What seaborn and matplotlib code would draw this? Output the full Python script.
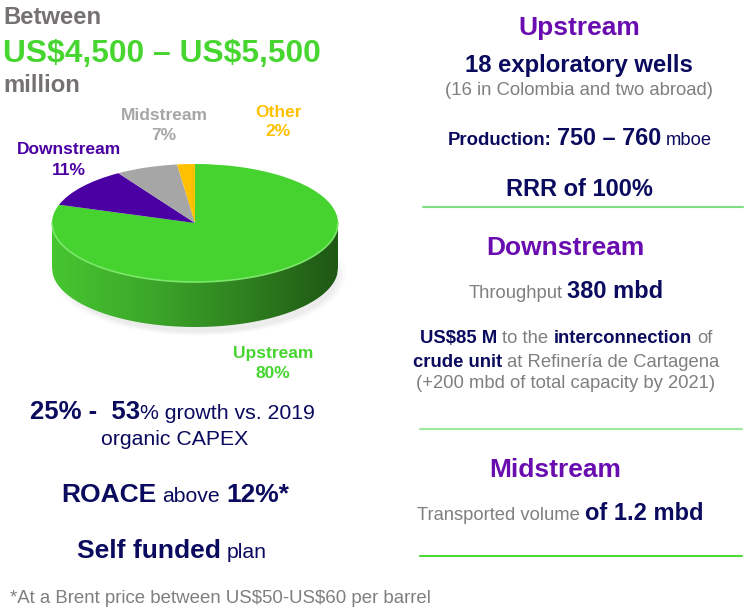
import numpy as np
import matplotlib
matplotlib.use("Agg")
import matplotlib.pyplot as plt
import seaborn as sns
from matplotlib.patches import Polygon, Ellipse

# capex split 2020
segments = ["Upstream", "Downstream", "Midstream", "Other"]
shares = [80, 11, 7, 2]
seg_colors = ["#46D330", "#4B00A3", "#A6A6A6", "#FFC000"]

NAVY = "#0A0A5E"
GRAY = "#7F7F7F"
PURPLE = "#6A0DB0"
TITLE_GRAY = "#757171"
GREEN = "#47D630"

sns.set_theme(style="white")
plt.rcParams['font.family'] = ['Liberation Sans', 'DejaVu Sans']

fig = plt.figure(figsize=(7.46, 6.14), dpi=100)
ax = fig.add_axes([0, 0, 1, 1])
ax.set_xlim(0, 746)
ax.set_ylim(614, 0)
ax.axis('off')
ax.patch.set_alpha(0)

# --- pie (flattened, with a side) ---
cx, cy, rx, ry, depth = 195, 223, 143, 59, 45
d = depth / ry
x0, x1, y0, y1 = -1.1, 1.1, -2.0, 1.1
left = cx + x0 * rx
top = cy - y1 * ry
w = (x1 - x0) * rx
h = (y1 - y0) * ry
axp = fig.add_axes([left / 746, 1 - (top + h) / 614, w / 746, h / 614])

wedges, _ = axp.pie(shares, colors=seg_colors, startangle=90, counterclock=False,
                    wedgeprops=dict(linewidth=0), frame=False)
for wd in wedges:
    wd.set_zorder(3)
axp.set_aspect('auto')
axp.set_xlim(x0, x1)
axp.set_ylim(y0, y1)
axp.axis('off')

xs = np.linspace(-1, 1, 300)
arc = np.sqrt(1 - xs ** 2)
for k, a in [(0.10, 0.02), (0.05, 0.025), (0.0, 0.03)]:
    axp.add_patch(Ellipse((0.03, -d - 0.12), 1.95 + k, 1.95 + k, color="#000000",
                          alpha=a, lw=0, zorder=0))
side = Polygon(np.column_stack([np.r_[-1, xs, 1], np.r_[0, -d - arc, 0]]),
               closed=True, facecolor='none', edgecolor='none')
axp.add_patch(side)
side_cmap = sns.blend_palette(["#47C630", "#3CA82A", "#2F821F", "#1F5714"], as_cmap=True)
im = axp.imshow(np.linspace(0, 1, 256).reshape(1, -1), cmap=side_cmap, aspect='auto',
                extent=(-1, 1, -1 - d, 0), zorder=1)
im.set_clip_path(side)
axp.plot(xs, -arc, color="#7BE86A", lw=1.2, zorder=4)
axp.set_xlim(x0, x1)
axp.set_ylim(y0, y1)

renderer = fig.canvas.get_renderer()


def put(x, y, s, **kw):
    return ax.text(x, y, s, va='baseline', parse_math=False, **kw)


def line_of(y, parts, center=None, x_left=None):
    objs, widths, gaps = [], [], []
    prev_size = None
    for text, size, bold, color, gap in parts:
        t = put(0, y, text, fontsize=size, fontweight='bold' if bold else 'normal',
                color=color, ha='left')
        objs.append(t)
        widths.append(t.get_window_extent(renderer).width)
        if prev_size is None or not gap:
            gaps.append(0)
        else:
            gaps.append(0.278 * min(size, prev_size) * 100 / 72)
        prev_size = size
    total = sum(widths) + sum(gaps)
    x = center - total / 2 if center is not None else x_left
    for t, wd, g in zip(objs, widths, gaps):
        x += g
        t.set_x(x)
        x += wd


# --- title ---
put(3, 24, "Between", fontsize=17.2, fontweight='bold', color=TITLE_GRAY)
put(3, 62, "US$4,500 \u2013 US$5,500", fontsize=22.9, fontweight='bold', color=GREEN)
put(3, 92, "million", fontsize=17.2, fontweight='bold', color=TITLE_GRAY)

# --- pie labels ---
label_pos = {"Upstream": (273, 358, 378), "Downstream": (69, 154, 175),
             "Midstream": (164, 120, 140), "Other": (278, 117, 136)}
label_colors = ["#47D630", "#4B00A3", "#A6A6A6", "#FFC000"]
for name, pct, col in zip(segments, shares, label_colors):
    lx, b1, b2 = label_pos[name]
    put(lx, b1, name, fontsize=12.5, fontweight='bold', color=col, ha='center')
    put(lx, b2, f"{pct}%", fontsize=12.5, fontweight='bold', color=col, ha='center')

# --- left bottom block ---
line_of(419, [("25% -  53", 18.5, True, NAVY, False),
              ("% growth vs. 2019", 15.3, False, NAVY, False)], center=172)
line_of(445, [("organic CAPEX", 15.3, False, NAVY, False)], center=175)
line_of(502, [("ROACE", 19, True, NAVY, False), ("above", 15.3, False, NAVY, True),
              ("12%*", 19, True, NAVY, True)], center=175)
line_of(558, [("Self funded", 19, True, NAVY, False), ("plan", 15.3, False, NAVY, True)],
        center=172)
put(10, 603, "*At a Brent price between US$50-US$60 per barrel", fontsize=13.4, color=GRAY)

# --- right block ---
line_of(35, [("Upstream", 19, True, PURPLE, False)], center=579)
line_of(72, [("18 exploratory wells", 17.2, True, NAVY, False)], center=579)
line_of(95, [("(16 in Colombia and two abroad)", 13.3, False, GRAY, False)], center=579)
line_of(145, [("Production:", 13.3, True, NAVY, False), ("750 \u2013 760", 16.8, True, NAVY, True),
              ("mboe", 13.2, False, NAVY, True)], center=580)
line_of(196, [("RRR of 100%", 17, True, NAVY, False)], center=579)
ax.plot([423, 743], [207, 207], color="#7FE07F", lw=1.5)

line_of(255, [("Downstream", 19, True, PURPLE, False)], center=565)
line_of(298, [("Throughput", 13.2, False, GRAY, False), ("380 mbd", 17, True, NAVY, True)],
        center=566)
line_of(343, [("US$85 M", 13.3, True, NAVY, False), ("to the", 13.3, False, GRAY, True),
              ("interconnection", 13.3, True, NAVY, True), ("of", 13.3, False, GRAY, True)],
        center=566)
line_of(367, [("crude unit", 13.3, True, NAVY, False),
              ("at Refiner\u00eda de Cartagena", 13.3, False, GRAY, True)], center=566)
line_of(388, [("(+200 mbd of total capacity by 2021)", 13.3, False, GRAY, False)], center=566)
ax.plot([420, 742], [429, 429], color="#9FE89F", lw=1.5)

line_of(477, [("Midstream", 19, True, PURPLE, False)], center=555)
line_of(520, [("Transported volume", 13.2, False, GRAY, False),
              ("of 1.2 mbd", 17, True, NAVY, True)], center=560)
ax.plot([420, 742], [556, 556], color="#4CD936", lw=1.5)

fig.savefig("out.png", dpi=100, facecolor="white")
